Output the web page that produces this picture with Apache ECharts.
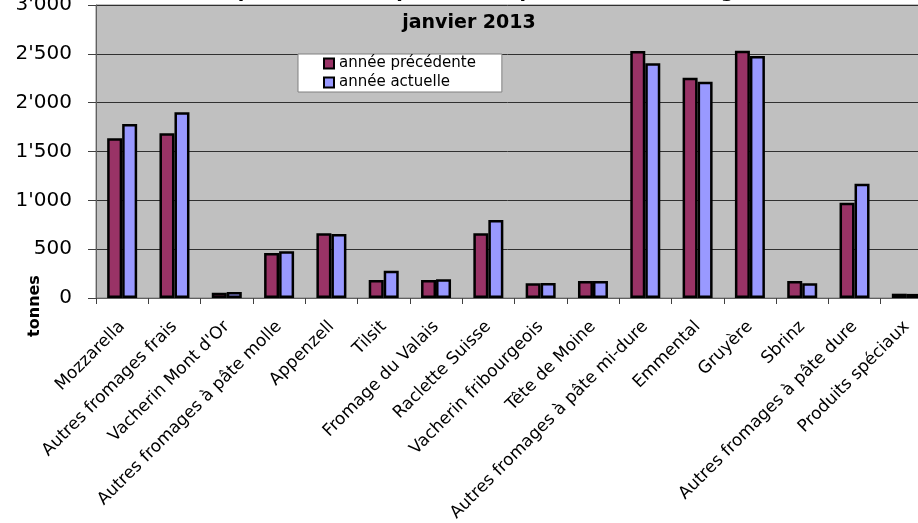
<!DOCTYPE html>
<html>
<head>
<meta charset="utf-8">
<script src="https://cdn.jsdelivr.net/npm/echarts@6/dist/echarts.min.js"></script>
<style>
html,body{margin:0;padding:0;background:#fff;}
#chart{width:918px;height:523px;}
</style>
</head>
<body>
<div id="chart"></div>
<script>
const categories = [
  "Mozzarella", "Autres fromages frais", "Vacherin Mont d'Or",
  "Autres fromages à pâte molle", "Appenzell", "Tilsit",
  "Fromage du Valais", "Raclette Suisse", "Vacherin fribourgeois",
  "Tête de Moine", "Autres fromages à pâte mi-dure", "Emmental",
  "Gruyère", "Sbrinz", "Autres fromages à pâte dure", "Produits spéciaux"
];
const previousYear = [1635, 1686, 55, 461, 662, 184, 184, 662, 150, 174, 2529, 2256, 2532, 174, 976, 44];
const currentYear  = [1781, 1901, 61, 478, 655, 280, 191, 799, 154, 174, 2403, 2215, 2478, 150, 1171, 42];
const seriesNames = ["année précédente", "année actuelle"];
const titleLine1 = "Comparaison de la production par sorte de fromage";
const titleLine2 = "janvier 2013";
const yLabelName = "tonnes";

const FONT = "DejaVu Sans";
const chart = echarts.init(document.getElementById('chart'), null, {renderer: 'canvas'});

function fmt(v) {
  const s = String(v);
  return s.length > 3 ? s.slice(0, s.length - 3) + "'" + s.slice(-3) : s;
}

const option = {
  backgroundColor: '#ffffff',
  animation: false,
  textStyle: {fontFamily: FONT, color: '#000'},
  title: [
    {
      text: titleLine1,
      left: 464, top: -22, textAlign: 'center',
      textStyle: {fontFamily: FONT, fontSize: 19, fontWeight: 'bold', color: '#000'}
    },
    {
      text: titleLine2,
      left: 464, top: 9, textAlign: 'center',
      textStyle: {fontFamily: FONT, fontSize: 19, fontWeight: 'bold', color: '#000'}
    }
  ],
  legend: {
    orient: 'vertical',
    left: 298, top: 54,
    backgroundColor: '#ffffff',
    borderColor: '#808080', borderWidth: 1,
    padding: [2, 26, 2, 25],
    itemWidth: 10, itemHeight: 10, itemGap: 4,
    icon: 'rect',
    textStyle: {fontFamily: FONT, fontSize: 15, color: '#000'},
    data: seriesNames
  },
  grid: {
    left: 96, top: 5, right: -15, bottom: 225,
    show: true, backgroundColor: '#C0C0C0',
    borderColor: '#808080', borderWidth: 1,
    containLabel: false,
    outerBoundsMode: 'none'
  },
  xAxis: {
    type: 'category',
    data: categories,
    axisLine: {show: true, lineStyle: {color: '#606060', width: 1}},
    axisTick: {show: true, alignWithLabel: false, length: 6, lineStyle: {color: '#404040'}},
    axisLabel: {
      interval: 0, rotate: 45, margin: 26, hideOverlap: false,
      fontFamily: FONT, fontSize: 17, color: '#000'
    },
    splitLine: {show: false}
  },
  yAxis: {
    type: 'value',
    min: 0, max: 3000, interval: 500,
    axisLine: {show: true, lineStyle: {color: '#606060', width: 1}},
    axisTick: {show: true, length: 8, lineStyle: {color: '#404040'}},
    axisLabel: {
      margin: 24, fontFamily: FONT, fontSize: 20, color: '#000',
      formatter: fmt
    },
    splitLine: {show: true, lineStyle: {color: '#303030', width: 1}}
  },
  series: [
    {
      name: seriesNames[0], type: 'bar', data: previousYear,
      barWidth: 15, barGap: '0%',
      itemStyle: {color: '#993366', borderColor: '#000', borderWidth: 2.5}
    },
    {
      name: seriesNames[1], type: 'bar', data: currentYear,
      barWidth: 15, barGap: '0%',
      itemStyle: {color: '#9999FF', borderColor: '#000', borderWidth: 2.5}
    }
  ],
  graphic: [
    {
      type: 'text', x: 35, y: 306, rotation: Math.PI / 2,
      style: {
        text: yLabelName, fill: '#000',
        font: "bold 16px 'DejaVu Sans', sans-serif",
        textAlign: 'center', textVerticalAlign: 'middle'
      }
    }
  ]
};
chart.setOption(option);
</script>
</body>
</html>
